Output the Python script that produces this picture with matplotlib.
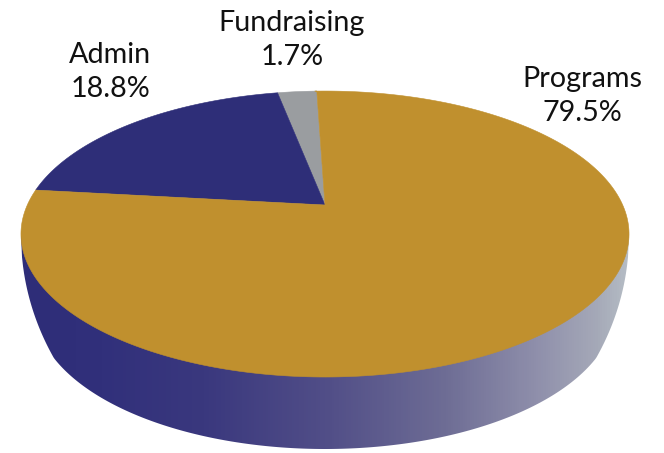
import matplotlib
matplotlib.use('Agg')
import matplotlib.pyplot as plt
from matplotlib.colors import LinearSegmentedColormap
import numpy as np

plt.rcParams['font.family'] = ['Lato', 'DejaVu Sans']

# anticlockwise from the top of the pie
categories = ['Fundraising', 'Admin', 'Programs']
shares = [1.7, 18.8, 79.5]
slice_colors = ['#9A9DA0', '#2E2E78', '#C0902E']
label_x = [292, 110, 582]
label_y = [40, 72, 96]

W, H = 664, 453
APEX_X, APEX_Y = 325, 205
TOP_A, TOP_B, TILT = 297.7, 137.1, 0.203
ROLL = 1.9


def project(u, v):
    # unit circle to the tilted top face, pixel coords
    d = 1 + TILT * v
    return APEX_X + TOP_A * u / d, APEX_Y - TOP_B * v / d


def skew(phi):
    # the original's 3d view does not keep angles even
    return ROLL + 9.7 * np.sin(np.radians(phi) / 2)**0.4


def wedge(start, stop):
    phi = np.linspace(start, stop, 300)
    theta = np.radians(phi + skew(phi))
    x, y = project(-np.sin(theta), np.cos(theta))
    return np.r_[APEX_X, x], np.r_[APEX_Y, y]


def wall_outline():
    x = np.linspace(21, 629, 600)
    dx = x - 325
    side = 235 + 272 * np.sqrt(np.clip(1 - (dx / 304)**2, 0, None))
    base = 308 + 141 * np.sqrt(np.clip(1 - (dx / 290)**2, 0, None))
    return x, np.where(np.abs(dx) > 271, side, base)


fig = plt.figure(figsize=(W / 100, H / 100), dpi=100)
ax = fig.add_axes([0, 0, 1, 1])
ax.set_xlim(0, W)
ax.set_ylim(H, 0)
ax.axis('off')

# side wall, navy to pale grey left to right
wall_cmap = LinearSegmentedColormap.from_list('wall', [
    (0.00, '#2E2D78'), (0.13, '#31307B'), (0.30, '#3A387E'), (0.51, '#524F88'),
    (0.70, '#6E6D95'), (0.85, '#8F8FAB'), (0.95, '#A5A9B8'), (1.00, '#B5BCC4')])
wx, wy = wall_outline()
poly = ax.fill(np.r_[wx, wx[::-1]], np.r_[wy, np.full(wx.size, 235)], color='none', lw=0)[0]
img = ax.imshow(np.linspace(0, 1, 608)[None, :], cmap=wall_cmap, aspect='auto',
                extent=[21, 629, 460, 200], zorder=1)
img.set_clip_path(poly)
ax.set_xlim(0, W)
ax.set_ylim(H, 0)

start = 0.0
for name, share, color, lx, ly in zip(categories, shares, slice_colors, label_x, label_y):
    stop = start + share * 3.6
    x, y = wedge(start, stop)
    ax.fill(x, y, color=color, lw=0.4, zorder=2)
    ax.text(lx, ly, '{}\n{}%'.format(name, share), ha='center', va='center', fontsize=20.7,
            color='#111111', linespacing=1.42, zorder=3)
    start = stop

fig.savefig('out.png', dpi=100)
